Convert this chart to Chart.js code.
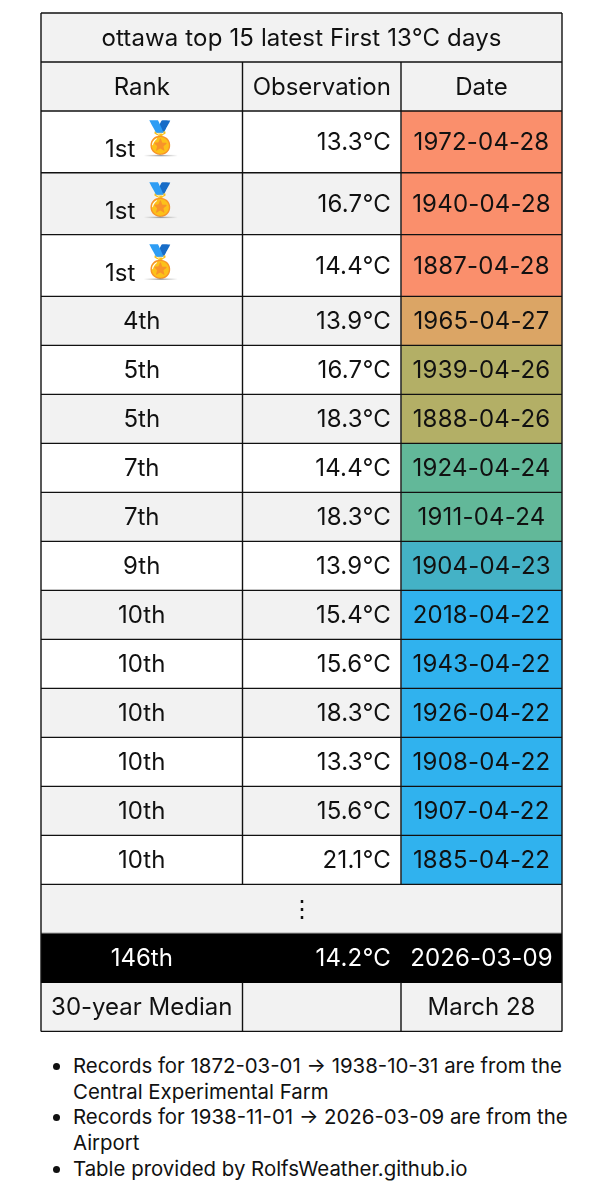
<!DOCTYPE html>
<html><head><meta charset="utf-8">
<script src="https://cdn.jsdelivr.net/npm/chart.js@4"></script>
<style>
html,body{margin:0;padding:0;background:#fff;width:603px;height:1200px;overflow:hidden;font-family:Inter,sans-serif;color:#111}
#wrap{position:absolute;left:0;top:0;width:603px;height:1040px}
ul{position:absolute;left:33px;top:1053px;width:535px;margin:0;padding:0 0 0 40px;font-size:20.4px;line-height:25.7px}
</style></head><body>
<div id="wrap"><canvas id="c" width="603" height="1040"></canvas></div>
<ul>
<li>Records for 1872-03-01 → 1938-10-31 are from the Central Experimental Farm</li>
<li>Records for 1938-11-01 → 2026-03-09 are from the Airport</li>
<li>Table provided by RolfsWeather.github.io</li>
</ul>
<script>
const titleText = "ottawa top 15 latest First 13°C days";
const headers = ["Rank","Observation","Date"];
const ranks = ["1st","1st","1st","4th","5th","5th","7th","7th","9th","10th","10th","10th","10th","10th","10th"];
const observations = ["13.3°C","16.7°C","14.4°C","13.9°C","16.7°C","18.3°C","14.4°C","18.3°C","13.9°C","15.4°C","15.6°C","18.3°C","13.3°C","15.6°C","21.1°C"];
const dates = ["1972-04-28","1940-04-28","1887-04-28","1965-04-27","1939-04-26","1888-04-26","1924-04-24","1911-04-24","1904-04-23","2018-04-22","1943-04-22","1926-04-22","1908-04-22","1907-04-22","1885-04-22"];
const dayColours = {"04-28":"#FA8F6C","04-27":"#DBA565","04-26":"#B3AF66","04-24":"#62B899","04-23":"#44B2C6","04-22":"#30B2EE"};
const ellipsis = "⋮";
const currentRow = ["146th","14.2°C","2026-03-09"];
const medianRow = ["30-year Median","","March 28"];
const medal = "🏅";

// Layout constants
const colWidths = [201.5,158.5,161];
const ROW=49, MEDAL=62;
const GREY="#F2F2F2", WHITE="#FFFFFF", INK="#111111";
const FONT='24px Inter, sans-serif';
const colEdges=[0,201.5,360,521];
const rowH=[ROW,ROW,...ranks.map(r=>r===ranks[0]?MEDAL-0.2:ROW),ROW,ROW,ROW];
const rowEdges=[0]; rowH.forEach(h=>rowEdges.push(rowEdges[rowEdges.length-1]+h));
const total=rowEdges[rowEdges.length-1];
const span=i=>[rowEdges[i],rowEdges[i+1]];
const R0=2, RELL=R0+ranks.length, RCUR=RELL+1, RMED=RCUR+1;
const zebra=i=>i%2===0?WHITE:GREY;

function colDataset(c,colours){
  const x=(colEdges[c]+colEdges[c+1])/2;
  const rows=[1,...ranks.map((_,i)=>R0+i),RMED];
  return {type:'bar',barThickness:colWidths[c],grouped:false,borderWidth:0,
    data:rows.map(r=>({x,y:span(r)})),
    backgroundColor:rows.map(colours)};
}
const base=r=>{ if(r===1||r===RMED) return GREY; return zebra(r-R0); };
const dateCol=r=>{ if(r>=R0&&r<RELL) return dayColours[dates[r-R0].slice(5)]; return base(r); };

const tablePlugin={id:'table',afterDatasetsDraw(chart){
  const {ctx,scales:{x,y}}=chart;
  const px=v=>x.getPixelForValue(v), py=v=>y.getPixelForValue(v);
  ctx.save();
  // rules
  ctx.strokeStyle="#111"; ctx.lineWidth=1.4;
  const line=(a,b,c,d)=>{ctx.beginPath();ctx.moveTo(a,b);ctx.lineTo(c,d);ctx.stroke();};
  rowEdges.forEach((e,i)=>{ if(i===RCUR||i===RCUR+1){ctx.save();ctx.strokeStyle=i===RCUR?"#555":"#000";line(px(0),py(e),px(521),py(e));ctx.restore();} else line(px(0),py(e),px(521),py(e)); });
  line(px(0),py(0),px(0),py(total)); line(px(521),py(0),px(521),py(total));
  [1,2].forEach(c=>{ line(px(colEdges[c]),py(rowEdges[1]),px(colEdges[c]),py(rowEdges[RELL]));
                     line(px(colEdges[c]),py(rowEdges[RMED]),px(colEdges[c]),py(rowEdges[RMED+1])); });
  // text
  ctx.font=FONT; ctx.textBaseline='alphabetic';
  const text=(s,xp,r,align,col,dy=8.5,sp='0px')=>{ctx.letterSpacing=sp;ctx.textAlign=align;ctx.fillStyle=col;ctx.fillText(s,xp,(py(rowEdges[r])+py(rowEdges[r+1]))/2+dy);ctx.letterSpacing='0px';};
  const cc=c=>px((colEdges[c]+colEdges[c+1])/2), right=px(colEdges[2])-10;
  text(titleText,px(260.5),0,'center',INK,8.6,'0.14px');
  text(headers[0],cc(0),1,'center',INK); text(headers[1],cc(1),1,'center',INK); text(headers[2],cc(2),1,'center',INK);
  ranks.forEach((rk,i)=>{
    const r=R0+i;
    if(rk===ranks[0]){
      text(rk,cc(0)-21.5,r,'center',INK,15.2);
      ctx.font='31px "Noto Color Emoji","Apple Color Emoji","Segoe UI Emoji",sans-serif';
      text(medal,cc(0)+19,r,'center',INK,6);
      ctx.font=FONT;
      // ground shadow under the medal
      const m=(py(rowEdges[r])+py(rowEdges[r+1]))/2+13;
      const g=ctx.createLinearGradient(cc(0)+2,0,cc(0)+36,0);
      g.addColorStop(0,'rgba(120,120,120,0)');g.addColorStop(.5,'rgba(120,120,120,.7)');g.addColorStop(1,'rgba(120,120,120,0)');
      ctx.fillStyle=g;ctx.fillRect(cc(0)+2,m,34,1.4);
    } else text(rk,cc(0),r,'center',INK);
    text(observations[i],right,r,'right',INK,8.5,'0.2px');
    text(dates[i],cc(2),r,'center',INK,8.5,'0.2px');
  });
  text(ellipsis,px(260.5),RELL,'center',INK);
  text(currentRow[0],cc(0),RCUR,'center',"#fff");
  text(currentRow[1],right,RCUR,'right',"#fff",8.5,'0.2px');
  text(currentRow[2],cc(2),RCUR,'center',"#fff",8.5,'0.1px');
  text(medianRow[0],cc(0),RMED,'center',INK);
  text(medianRow[2],cc(2),RMED,'center',INK);
  ctx.restore();
}};

new Chart(document.getElementById('c'),{
  type:'bar',
  data:{datasets:[
    {type:'bar',barThickness:521,grouped:false,borderWidth:0,
     data:[0,RELL,RCUR].map(r=>({x:260.5,y:span(r)})),backgroundColor:[GREY,GREY,"#000000"]},
    colDataset(0,base),colDataset(1,base),colDataset(2,dateCol)
  ]},
  options:{responsive:false,animation:false,devicePixelRatio:1,
    layout:{padding:{left:41,right:41,top:13,bottom:1040-13-total}},
    plugins:{legend:{display:false},tooltip:{enabled:false},title:{display:false}},
    scales:{
      x:{type:'linear',min:0,max:521,offset:false,display:false},
      y:{type:'linear',min:0,max:total,reverse:true,display:false}
    }
  },
  plugins:[tablePlugin]
});
</script>
</body></html>
